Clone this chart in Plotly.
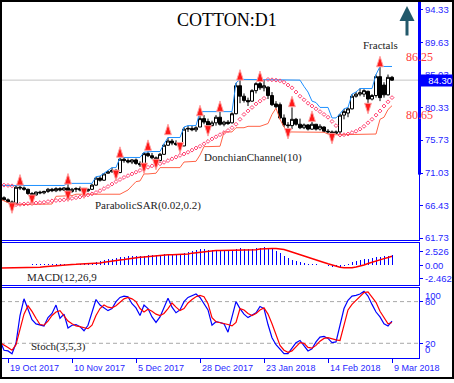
import plotly.graph_objects as go

# ---------------- data ----------------
BAR_INDEX = list(range(-2, 97))          # trading-bar index, 0 = 19 Oct 2017
TICK_POS = [0, 16, 32, 48, 64, 80, 96]
TICK_LABELS = ["19 Oct 2017", "10 Nov 2017", "5 Dec 2017", "28 Dec 2017",
               "23 Jan 2018", "14 Feb 2018", "9 Mar 2018"]

OPEN = [67.6, 67.5, 67.2, 66.9, 66.7, 69.0, 68.9, 68.7, 68.1, 67.9,
        68.3, 68.2, 68.4, 68.7, 68.5, 68.8, 68.6, 68.9, 68.4, 68.7,
        68.8, 68.6, 68.5, 68.7, 69.3, 70.3, 70.0, 71.0, 71.2, 71.4,
        71.1, 73.0, 72.8, 72.6, 72.9, 72.4, 72.2, 73.8, 73.5, 73.2,
        72.8, 73.7, 75.0, 75.6, 75.3, 75.1, 74.9, 77.3, 77.4, 77.2,
        77.6, 78.8, 78.4, 77.8, 78.2, 79.0, 78.0, 78.3, 78.2, 79.5,
        83.5, 82.0, 81.4, 81.3, 82.8, 83.8, 83.2, 83.3, 82.1, 80.9,
        80.8, 78.9, 77.9, 77.8, 78.7, 78.0, 77.5, 77.9, 77.3, 78.0,
        77.3, 77.6, 77.0, 76.9, 76.7, 76.9, 79.3, 79.6, 80.2, 82.0,
        82.3, 82.3, 82.7, 81.6, 82.1, 84.8, 83.6, 82.2, 84.7]
HIGH = [67.9, 67.7, 67.4, 67.1, 69.2, 69.3, 69.1, 68.8, 68.3, 68.4,
        68.5, 68.5, 68.9, 68.9, 69.0, 69.0, 69.0, 69.55, 68.9, 69.0,
        69.1, 68.9, 68.8, 69.5, 70.5, 70.6, 71.0, 71.4, 71.8, 71.6,
        73.25, 73.2, 73.1, 73.0, 73.1, 72.7, 74.0, 74.1, 73.9, 73.4,
        73.9, 75.2, 76.1, 75.9, 75.7, 75.4, 77.6, 77.8, 77.8, 77.7,
        79.8, 79.3, 78.8, 78.5, 79.3, 79.8, 78.5, 78.6, 79.7, 83.9,
        84.4, 82.4, 81.8, 83.0, 84.0, 84.35, 84.3, 83.4, 82.6, 81.3,
        81.1, 79.4, 78.3, 80.4, 78.9, 78.8, 78.1, 78.0, 78.9, 78.0,
        78.0, 77.7, 77.3, 77.1, 77.1, 79.5, 80.2, 80.4, 82.3, 82.6,
        83.1, 83.0, 82.8, 82.3, 85.1, 86.25, 84.0, 85.1, 84.9]
LOW = [67.3, 67.1, 66.8, 66.5, 66.6, 68.6, 68.5, 67.9, 67.7, 67.8,
       68.0, 68.0, 68.2, 68.3, 68.3, 68.4, 68.5, 68.1, 68.2, 68.3,
       68.4, 68.0, 68.3, 68.6, 69.2, 69.8, 69.9, 70.95, 71.1, 70.9,
       71.0, 72.5, 72.4, 72.3, 72.2, 71.9, 71.8, 73.3, 73.0, 72.6,
       72.7, 73.6, 74.9, 75.0, 74.9, 74.8, 74.85, 76.9, 77.0, 76.9,
       77.6, 78.0, 77.5, 77.7, 77.8, 77.8, 77.7, 77.9, 78.1, 79.4,
       81.0, 81.1, 80.6, 81.2, 82.4, 82.9, 82.7, 81.6, 80.6, 80.3,
       78.7, 77.6, 76.9, 77.3, 77.8, 77.3, 77.3, 77.1, 77.2, 77.1,
       77.1, 76.85, 76.6, 76.5, 76.6, 76.6, 78.7, 79.0, 80.1, 81.8,
       82.0, 81.9, 80.65, 81.4, 81.8, 81.3, 81.8, 82.1, 84.2]
CLOSE = [67.5, 67.2, 66.9, 66.7, 69.0, 68.9, 68.7, 68.1, 67.9, 68.3,
         68.2, 68.4, 68.7, 68.5, 68.8, 68.6, 68.9, 68.4, 68.7, 68.8,
         68.6, 68.5, 68.7, 69.3, 70.3, 70.0, 70.9, 71.2, 71.4, 71.1,
         73.0, 72.8, 72.6, 72.9, 72.4, 72.2, 73.8, 73.5, 73.2, 72.8,
         73.7, 75.0, 75.6, 75.3, 75.1, 74.9, 77.3, 77.4, 77.2, 77.5,
         78.8, 78.3, 77.8, 78.2, 79.0, 78.0, 78.3, 78.1, 79.5, 83.5,
         82.0, 81.4, 81.2, 82.8, 83.8, 83.2, 83.5, 82.1, 80.8, 80.5,
         78.9, 77.9, 77.8, 78.7, 78.0, 77.5, 77.9, 77.3, 78.0, 77.3,
         77.7, 77.0, 76.9, 76.7, 76.9, 79.3, 79.8, 80.2, 82.0, 82.3,
         82.5, 82.8, 81.6, 82.1, 84.8, 81.8, 82.2, 84.7, 84.3]

DONCHIAN_UPPER = [69.25, 69.25, 69.25, 69.25, 69.25, 69.25, 69.25, 69.25, 69.25, 69.25,
                  69.25, 69.25, 69.25, 69.25, 69.25, 69.25, 69.25, 69.55, 69.55, 69.55,
                  69.55, 69.55, 69.55, 69.55, 70.5, 70.6, 71.0, 71.4, 71.8, 71.8,
                  73.25, 73.25, 73.25, 73.25, 73.25, 73.25, 74.0, 74.1, 74.1, 74.1,
                  74.1, 75.2, 76.1, 76.1, 76.1, 76.1, 77.6, 77.8, 77.8, 77.8,
                  79.8, 79.8, 79.8, 79.8, 79.8, 79.8, 79.8, 79.8, 79.8, 83.9,
                  84.4, 84.4, 84.4, 84.4, 84.4, 84.4, 84.4, 84.4, 84.4, 84.4,
                  84.35, 84.35, 84.35, 84.35, 84.35, 84.3, 83.4, 82.6, 81.3, 81.1,
                  80.4, 80.4, 80.4, 78.9, 78.9, 79.5, 80.2, 80.4, 82.3, 82.6,
                  83.1, 83.1, 83.1, 83.1, 85.1, 86.25, 86.25, 86.25, 86.25]
DONCHIAN_LOWER = [67.3, 67.1, 66.8, 66.5, 66.5, 66.5, 66.5, 66.5, 66.5, 66.5,
                  66.5, 66.5, 66.5, 66.6, 67.7, 67.7, 67.7, 67.7, 67.8, 68.0,
                  68.0, 68.0, 68.0, 68.0, 68.0, 68.0, 68.0, 68.0, 68.0, 68.0,
                  68.0, 68.3, 68.6, 69.2, 69.8, 69.9, 70.9, 70.9, 70.9, 71.0,
                  71.8, 71.8, 71.8, 71.8, 71.8, 71.8, 72.6, 72.6, 72.6, 72.7,
                  73.6, 74.8, 74.8, 74.8, 74.8, 74.85, 76.9, 76.9, 76.9, 77.5,
                  77.5, 77.5, 77.7, 77.7, 77.7, 77.7, 77.9, 78.1, 79.4, 80.3,
                  78.7, 77.6, 76.9, 76.9, 76.9, 76.9, 76.9, 76.9, 76.9, 76.9,
                  76.9, 76.85, 76.6, 76.5, 76.5, 76.5, 76.5, 76.5, 76.5, 76.5,
                  76.5, 76.5, 76.5, 76.6, 76.6, 78.7, 79.0, 80.1, 80.65]
SAR = [69.35, 69.3, 69.25, 69.2, 66.5, 66.55, 66.6, 66.65, 66.7, 66.75,
       66.8, 66.85, 66.95, 67.05, 67.1, 67.15, 67.2, 67.3, 67.4, 67.5,
       67.6, 67.75, 67.9, 68.05, 68.25, 68.5, 68.8, 69.1, 69.45, 69.8,
       70.1, 70.4, 70.65, 70.9, 71.15, 71.4, 71.65, 71.85, 72.05, 72.2,
       72.35, 72.55, 72.8, 73.05, 73.3, 73.55, 73.75, 74.0, 74.3, 74.6,
       74.85, 75.2, 75.55, 75.9, 76.2, 76.5, 76.8, 77.1, 77.5, 78.0,
       78.7, 79.4, 79.9, 80.4, 80.9, 81.3, 81.7, 84.4, 84.35, 84.3,
       84.2, 84.0, 83.6, 83.2, 82.6, 82.0, 81.5, 81.0, 80.6, 80.2,
       79.8, 79.4, 79.0, 78.4, 77.8, 76.45, 76.5, 76.6, 76.8, 77.0,
       77.3, 77.7, 78.2, 78.7, 79.3, 79.9, 80.6, 81.2, 81.8]

FRACTAL_UP_BAR = [3, 15, 28, 35, 40, 48, 53, 58, 63, 71, 76, 93]
FRACTAL_UP_PRICE = [70.8, 70.95, 74.77, 75.76, 78.0, 80.7, 81.33, 85.8, 85.6, 82.0, 79.9, 87.7]
FRACTAL_DN_BAR = [1, 6, 15, 19, 27, 34, 37, 43, 50, 70, 81, 90]
FRACTAL_DN_PRICE = [65.27, 66.4, 66.97, 67.4, 69.95, 70.95, 71.5, 73.9, 76.3, 75.9, 75.2, 79.5]

MACD_MAIN = [0.1, 0.1, 0.1, 0.1, 0.12, 0.12, 0.12, 0.12, 0.15, 0.15,
             0.18, 0.2, 0.2, 0.22, 0.22, 0.25, 0.25, 0.28, 0.3, 0.3,
             0.3, 0.32, 0.35, 0.45, 0.6, 0.8, 0.95, 1.05, 1.2, 1.3,
             1.45, 1.55, 1.6, 1.6, 1.65, 1.65, 1.75, 1.8, 1.8, 1.8,
             1.95, 2.0, 2.1, 2.1, 2.05, 2.05, 2.25, 2.4, 2.5, 2.7,
             2.9, 2.9, 2.85, 2.8, 2.8, 2.75, 2.7, 2.65, 2.75, 3.0,
             3.05, 3.0, 2.9, 2.95, 3.1, 3.2, 3.25, 3.15, 2.9, 2.6,
             2.2, 1.7, 1.3, 1.0, 0.8, 0.6, 0.45, 0.3, 0.25, 0.2,
             0.1, 0.0, -0.15, -0.25, -0.35, -0.3, -0.1, 0.2, 0.55, 0.75,
             0.9, 1.05, 1.15, 1.25, 1.45, 1.55, 1.6, 1.65, 1.9]
MACD_SIGNAL = [-0.5, -0.5, -0.5, -0.5, -0.5, -0.5, -0.5, -0.5, -0.5, -0.45,
               -0.38, -0.3, -0.22, -0.15, -0.08, 0.0, 0.08, 0.12, 0.14, 0.16,
               0.18, 0.2, 0.22, 0.25, 0.3, 0.41, 0.55, 0.68, 0.78, 0.87,
               0.95, 1.02, 1.15, 1.3, 1.38, 1.44, 1.5, 1.58, 1.66, 1.78,
               1.82, 1.86, 1.9, 1.92, 1.92, 1.92, 1.95, 2.05, 2.2, 2.3,
               2.4, 2.5, 2.58, 2.64, 2.68, 2.7, 2.7, 2.7, 2.7, 2.7,
               2.72, 2.72, 2.72, 2.72, 2.82, 2.95, 3.02, 3.05, 3.05, 3.03,
               2.98, 2.85, 2.62, 2.4, 2.15, 1.92, 1.68, 1.42, 1.2, 0.95,
               0.72, 0.5, 0.25, 0.05, -0.2, -0.37, -0.45, -0.49, -0.45, -0.32,
               -0.19, 0.05, 0.3, 0.55, 0.84, 1.0, 1.2, 1.4, 1.62]

STOCH_K = [24, 10, 9, 5, 20, 60, 84, 70, 54, 48,
           47, 45, 57, 63, 75, 56, 62, 42, 46, 47,
           44, 38, 46, 65, 83, 75, 71, 67, 70, 80,
           86, 88, 87, 77, 71, 60, 75, 70, 58, 50,
           58, 73, 85, 72, 64, 68, 80, 86, 89, 91,
           86, 76, 68, 46, 51, 50, 48, 36, 58, 80,
           70, 62, 57, 60, 64, 73, 70, 47, 28, 18,
           11, 5, 5, 14, 21, 24, 17, 9, 12, 22,
           29, 30, 27, 21, 22, 48, 70, 82, 88, 89,
           91, 95, 88, 76, 65, 58, 48, 45, 52]
STOCH_D = [21, 18, 14, 10, 18, 40, 62, 74, 66, 56,
           47, 46, 52, 60, 65, 67, 60, 52, 48, 45,
           44, 42, 41, 46, 60, 70, 75, 72, 71, 74,
           79, 84, 86, 84, 80, 70, 65, 69, 66, 62,
           60, 63, 70, 78, 72, 67, 70, 78, 83, 87,
           89, 87, 77, 57, 51, 50, 49, 47, 45, 50,
           70, 68, 63, 60, 63, 68, 71, 62, 48, 33,
           17, 10, 7, 9, 15, 21, 20, 14, 13, 17,
           23, 27, 28, 26, 25, 24, 45, 68, 76, 82,
           88, 93, 94, 86, 79, 66, 56, 48, 50]

PRICE_TICKS = [94.33, 89.63, 85.03, 80.33, 75.73, 71.03, 66.43, 61.73]
MACD_TICKS = [2.526, 0.0, -2.462]
MACD_TICK_TEXT = ["2.526", "0.00", "-2.462"]
STOCH_LEVELS = [80, 20]
STOCH_BOUNDS = [100, 0]
LAST_PRICE = 84.30
DC_UPPER_LAST = 86.25
DC_LOWER_LAST = 80.65

_n = len(BAR_INDEX)
for _a in (OPEN, HIGH, LOW, CLOSE, DONCHIAN_UPPER, DONCHIAN_LOWER, SAR,
           MACD_MAIN, MACD_SIGNAL, STOCH_K, STOCH_D):
    assert len(_a) == _n, len(_a)

# ---------------- layout helpers (pixels -> paper) ----------------
W, H = 454, 383
def PX(x):
    return x / W
def PY(y):
    return 1 - y / H

PLOT_L, PLOT_R = 1, 419
PRICE_T, PRICE_B = 1, 242
MACD_T, MACD_B = 245, 287
STO_T, STO_B = 290, 361

BLUE = "#0000ff"
LBL = "#1f1fff"
SANS = "Liberation Sans"
SERIF = "Liberation Serif"

fig = go.Figure()

# Donchian channel
fig.add_trace(go.Scatter(x=BAR_INDEX, y=DONCHIAN_UPPER, mode="lines",
                         line=dict(color="#1e90ff", width=1), hoverinfo="skip",
                         xaxis="x", yaxis="y"))
fig.add_trace(go.Scatter(x=BAR_INDEX, y=DONCHIAN_LOWER, mode="lines",
                         line=dict(color="#ff6347", width=1), hoverinfo="skip",
                         xaxis="x", yaxis="y"))
# Parabolic SAR
fig.add_trace(go.Scatter(x=BAR_INDEX, y=SAR, mode="markers",
                         marker=dict(symbol="diamond-open", size=3, color="#ff4070",
                                     line=dict(width=1, color="#ff4070")),
                         hoverinfo="skip", xaxis="x", yaxis="y"))
# Candles
fig.add_trace(go.Candlestick(x=BAR_INDEX, open=OPEN, high=HIGH, low=LOW, close=CLOSE,
                             increasing=dict(line=dict(color="black", width=1), fillcolor="white"),
                             decreasing=dict(line=dict(color="black", width=1), fillcolor="black"),
                             whiskerwidth=0, hoverinfo="none", xaxis="x", yaxis="y"))
# Fractals
fig.add_trace(go.Scatter(x=FRACTAL_UP_BAR, y=FRACTAL_UP_PRICE, mode="markers",
                         marker=dict(symbol="arrow", size=11, angle=0, color="#ff1a1a",
                                     line=dict(width=1, color="#ffa0a0")),
                         hoverinfo="skip", xaxis="x", yaxis="y"))
fig.add_trace(go.Scatter(x=FRACTAL_DN_BAR, y=FRACTAL_DN_PRICE, mode="markers",
                         marker=dict(symbol="arrow", size=11, angle=180, color="#ff1a1a",
                                     line=dict(width=1, color="#ffa0a0")),
                         hoverinfo="skip", xaxis="x", yaxis="y"))
# MACD
fig.add_trace(go.Bar(x=BAR_INDEX, y=MACD_MAIN, width=0.25,
                     marker=dict(color=BLUE, line=dict(width=0)),
                     hoverinfo="skip", xaxis="x2", yaxis="y2"))
fig.add_trace(go.Scatter(x=BAR_INDEX, y=MACD_SIGNAL, mode="lines",
                         line=dict(color="#ff0000", width=1.5), hoverinfo="skip",
                         xaxis="x2", yaxis="y2"))
# Stochastic
fig.add_trace(go.Scatter(x=BAR_INDEX, y=STOCH_K, mode="lines",
                         line=dict(color=BLUE, width=1.2), hoverinfo="skip",
                         xaxis="x3", yaxis="y3"))
fig.add_trace(go.Scatter(x=BAR_INDEX, y=STOCH_D, mode="lines",
                         line=dict(color="#ff0000", width=1.2), hoverinfo="skip",
                         xaxis="x3", yaxis="y3"))

xdom = [PX(PLOT_L), PX(PLOT_R)]
xcommon = dict(domain=xdom, range=[-1.75, 102.75], showgrid=False, zeroline=False,
               showline=True, linecolor=BLUE, linewidth=1, fixedrange=True)
ycommon = dict(side="right", showgrid=False, zeroline=False, showline=True,
               linecolor=BLUE, linewidth=1, ticks="outside", ticklen=3,
               tickcolor=BLUE, tickfont=dict(family=SANS, size=9.5, color=LBL),
               fixedrange=True)

fig.update_layout(
    width=W, height=H, autosize=False,
    margin=dict(l=0, r=0, t=0, b=0),
    paper_bgcolor="white", plot_bgcolor="white",
    showlegend=False, hovermode=False,
    boxgap=0.25, boxgroupgap=0, bargap=0,
    font=dict(family=SANS, size=10, color="#222"),
    xaxis=dict(**xcommon, anchor="y", showticklabels=False, ticks="",
               rangeslider=dict(visible=False)),
    xaxis2=dict(**xcommon, anchor="y2", matches="x", mirror=True,
                showticklabels=False, ticks=""),
    xaxis3=dict(**xcommon, anchor="y3", matches="x", mirror=True,
                showticklabels=False, ticks="outside", ticklen=4, tickcolor=BLUE,
                tickvals=TICK_POS),
    yaxis=dict(**ycommon, anchor="x", domain=[PY(PRICE_B), PY(PRICE_T)],
               range=[61.445, 95.606], tickvals=PRICE_TICKS,
               ticktext=[f"{v:.2f}" for v in PRICE_TICKS]),
    yaxis2=dict(**ycommon, anchor="x2", domain=[PY(MACD_B), PY(MACD_T)],
                range=[-3.56, 4.03], tickvals=MACD_TICKS, ticktext=MACD_TICK_TEXT),
    yaxis3=dict(**ycommon, anchor="x3", domain=[PY(STO_B), PY(STO_T)],
                range=[-1.43, 100], tickvals=STOCH_LEVELS,
                ticktext=[str(v) for v in STOCH_LEVELS]),
)

shapes = [
    # current price line
    dict(type="line", xref="paper", yref="y", x0=PX(0), x1=PX(PLOT_R),
         y0=LAST_PRICE, y1=LAST_PRICE, line=dict(color="#c4c4c4", width=1), layer="below"),
    # thick upper part of the price scale line
    dict(type="line", xref="paper", yref="paper", x0=PX(419.5), x1=PX(419.5),
         y0=PY(176), y1=PY(0), line=dict(color=BLUE, width=3)),
    # outer frame
    dict(type="rect", xref="paper", yref="paper", x0=PX(1), x1=PX(453),
         y0=PY(381), y1=PY(1), line=dict(color="black", width=2)),
]
for lv in STOCH_LEVELS:
    shapes.append(dict(type="line", xref="paper", yref="y3", x0=PX(PLOT_L), x1=PX(PLOT_R),
                       y0=lv, y1=lv, line=dict(color="#a8a8a8", width=1, dash="4px,3px"),
                       layer="below"))

ann = []
def label(text, x, y, size=11, color="#222", family=SERIF, xanchor="left",
          yanchor="middle", yref="paper", **kw):
    ann.append(dict(text=text, x=x, y=y, xref="paper", yref=yref, showarrow=False,
                    xanchor=xanchor, yanchor=yanchor,
                    font=dict(family=family, size=size, color=color), **kw))

label("COTTON:D1", PX(227.5), PY(20), size=18, color="black", xanchor="center")
label("Fractals", PX(380), PY(45), size=11, xanchor="center")
label("DonchianChannel(10)", PX(202), PY(159))
label("ParabolicSAR(0.02,0.2)", PX(93), PY(207))
label("MACD(12,26,9", PX(25), PY(280))
label("Stoch(3,5,3)", PX(29), PY(349))
label(f"{DC_UPPER_LAST:.2f}", PX(404), DC_UPPER_LAST, size=12, color="#ff3a3a",
      yanchor="bottom", yref="y")
label(f"{DC_LOWER_LAST:.2f}", PX(404), DC_LOWER_LAST, size=12, color="#ff3a3a",
      yanchor="top", yref="y")
# stochastic bound labels drawn inside the window, MT4 style
label(str(STOCH_BOUNDS[0]), PX(423), STOCH_BOUNDS[0], size=9.5, color=LBL, family=SANS,
      yanchor="top", yref="y3")
label(str(STOCH_BOUNDS[1]), PX(423), STOCH_BOUNDS[1], size=9.5, color=LBL, family=SANS,
      yanchor="bottom", yref="y3")
# last price box
ann.append(dict(text=f"{LAST_PRICE:.2f}", x=PX(419), y=LAST_PRICE, xref="paper", yref="y",
                showarrow=False, xanchor="left", yanchor="middle", width=32, height=11,
                align="right", bgcolor=BLUE, borderpad=0,
                font=dict(family=SANS, size=9.5, color="white")))
# date labels, left-aligned at their tick
for pos, txt in zip(TICK_POS, TICK_LABELS):
    ann.append(dict(text=txt, x=pos, y=PY(371), xref="x3", yref="paper", showarrow=False,
                    xanchor="left", yanchor="middle",
                    font=dict(family=SANS, size=9, color=LBL)))
# trend arrow
ann.append(dict(text="", x=PX(407), y=PY(6), xref="paper", yref="paper",
                showarrow=True, ax=0, ay=31, axref="pixel", ayref="pixel",
                arrowhead=2, arrowsize=1, arrowwidth=3, arrowcolor="#22596b"))

fig.update_layout(shapes=shapes, annotations=ann)
fig.write_html("out.html", config={"displayModeBar": False, "staticPlot": True},
               post_script="document.body.style.margin='0';document.body.style.padding='0';"
                           "document.body.style.overflow='hidden';")
